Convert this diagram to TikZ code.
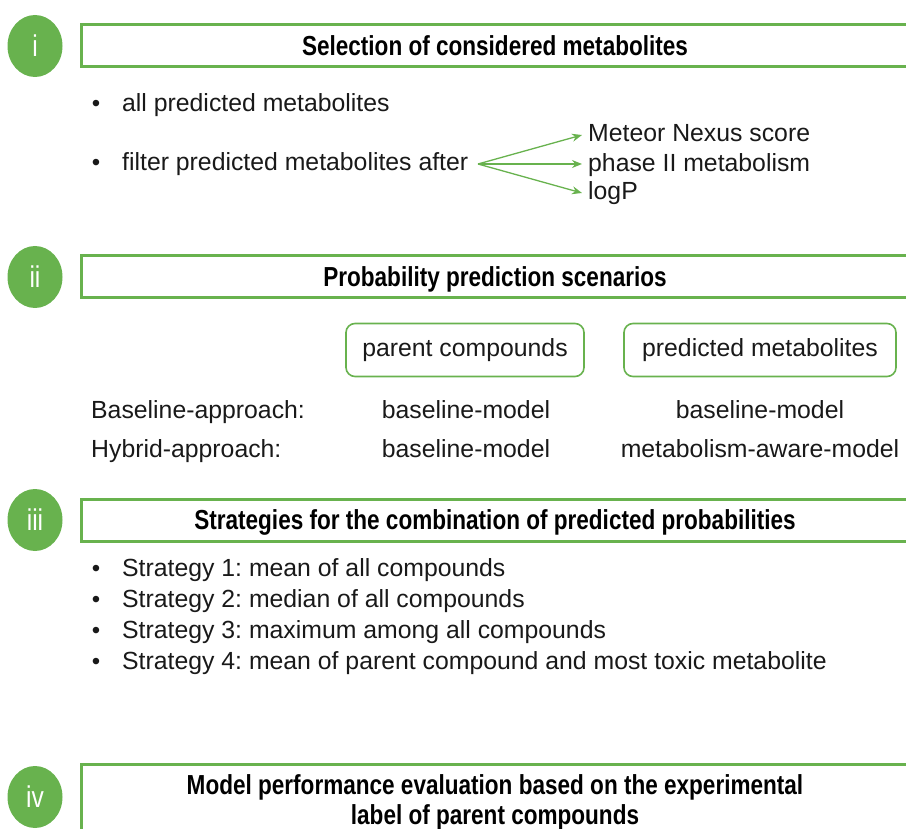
\documentclass[tikz,border=0pt]{standalone}
\usepackage{fontspec}
\setmainfont{Liberation Sans}
\newfontfamily\titlefont[FakeStretch=0.82]{Liberation Sans}
\usetikzlibrary{arrows.meta,shapes.geometric}
\definecolor{grn}{RGB}{104,178,78}
\definecolor{txt}{RGB}{25,25,25}
\frenchspacing
\begin{document}
\begin{tikzpicture}[x=1pt,y=-1pt,
  secbox/.style={draw=grn,line width=3pt,minimum width=834pt,minimum height=42pt,inner sep=0pt},
  numcirc/.style={ellipse,fill=grn,minimum width=55pt,minimum height=62pt,inner sep=0pt,text=white,
     font=\titlefont\fontsize{30}{30}\selectfont},
  body/.style={anchor=base west,inner sep=0pt,text=txt,font=\fontsize{24.8}{28}\selectfont},
  bodyc/.style={anchor=base,inner sep=0pt,text=txt,font=\fontsize{24.8}{28}\selectfont},
  bul/.style={anchor=base,inner sep=0pt,text=txt,font=\fontsize{24}{28}\selectfont},
  rbox/.style={draw=grn,line width=1.6pt,rounded corners=9pt,inner sep=0pt,text=txt,
     font=\fontsize{24.8}{28}\selectfont},
  garrow/.style={draw=grn,line width=1.3pt,-{Stealth[length=10pt,width=8pt]}},
  ttl/.style={anchor=base,inner sep=0pt,text=black,font=\titlefont\bfseries\fontsize{27.5}{30}\selectfont}
]
\useasboundingbox (0,0) rectangle (906,829);
\clip (0,0) rectangle (906,829);
% ---- section i
\node[secbox] (b1) at (498,46) {};
\node[ttl] (h1) at (495,55.5) {Selection of considered metabolites};
\node[numcirc] (c1) at (35,46) {i};
\node[bul] (u1) at (96,112) {\textbullet};
\node[body] (t1) at (122,112) {all predicted metabolites};
\node[bul] (u2) at (96,171) {\textbullet};
\node[body] (t2) at (122,171) {filter predicted metabolites after};
\coordinate (fs) at (478,164);
\node[body] (m1) at (588,142) {Meteor Nexus score};
\node[body] (m2) at (588,172) {phase II metabolism};
\node[body] (m3) at (588,200) {logP};
\coordinate (e1) at (582,135);
\coordinate (e2) at (582,164);
\coordinate (e3) at (582,193);
\draw[garrow] (fs) -- (e1);
\draw[garrow] (fs) -- (e2);
\draw[garrow] (fs) -- (e3);
% ---- section ii
\node[secbox] (b2) at (498,277) {};
\node[ttl] (h2) at (495,286.5) {Probability prediction scenarios};
\node[numcirc] (c2) at (35,277) {ii};
\node[rbox,minimum width=238pt,minimum height=53pt] (pc) at (465,350) {parent compounds};
\node[rbox,minimum width=272pt,minimum height=53pt] (pm) at (760,350) {predicted metabolites};
\node[body] (ba) at (91,418) {Baseline-approach:};
\node[bodyc] (ba1) at (466,418) {baseline-model};
\node[bodyc] (ba2) at (760,418) {baseline-model};
\node[body] (ha) at (91,457) {Hybrid-approach:};
\node[bodyc] (ha1) at (466,457) {baseline-model};
\node[bodyc] (ha2) at (760,457) {metabolism-aware-model};
% ---- section iii
\node[secbox] (b3) at (498,520) {};
\node[ttl] (h3) at (495,529.5) {Strategies for the combination of predicted probabilities};
\node[numcirc] (c3) at (35,520) {iii};
\node[bul] at (96,576) {\textbullet};
\node[body] (s1) at (122,576) {Strategy 1: mean of all compounds};
\node[bul] at (96,607) {\textbullet};
\node[body] (s2) at (122,607) {Strategy 2: median of all compounds};
\node[bul] at (96,638) {\textbullet};
\node[body] (s3) at (122,638) {Strategy 3: maximum among all compounds};
\node[bul] at (96,669) {\textbullet};
\node[body] (s4) at (122,669) {Strategy 4: mean of parent compound and most toxic metabolite};
% ---- section iv
\node[secbox,minimum height=88pt,anchor=north] (b4) at (498,763) {};
\node[ttl] (t4a) at (495,794.5) {Model performance evaluation based on the experimental};
\node[ttl] (t4b) at (495,824.5) {label of parent compounds};
\node[numcirc] (c4) at (35,797) {iv};
\end{tikzpicture}
\end{document}
